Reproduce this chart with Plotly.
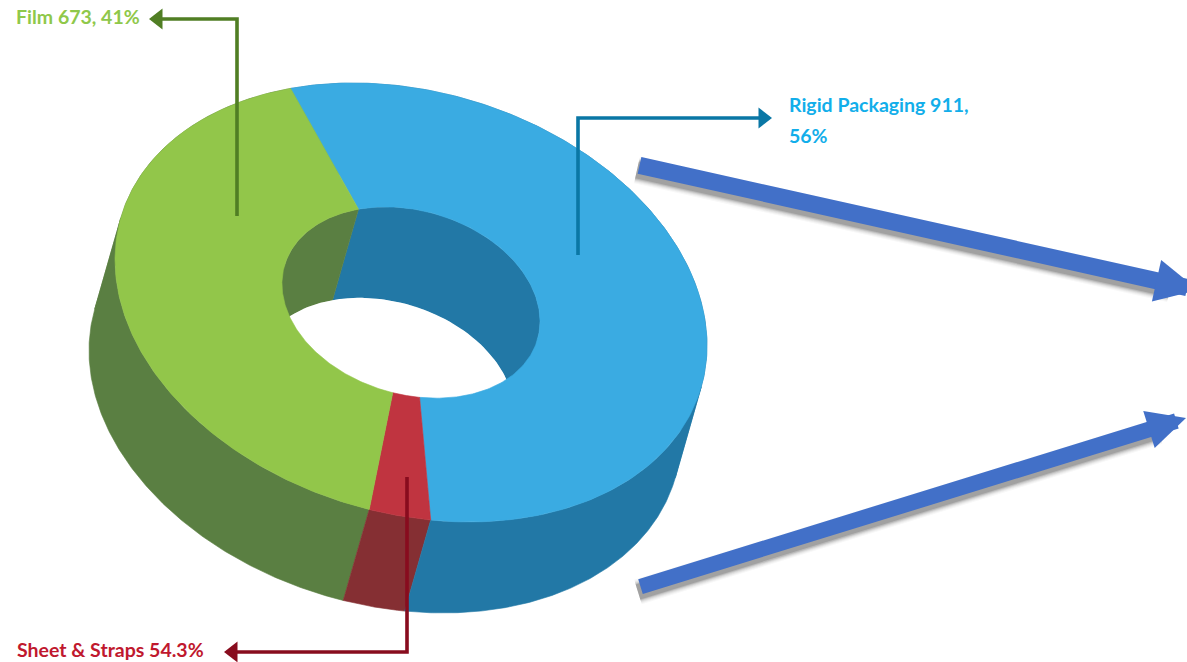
import numpy as np
import plotly.graph_objects as go

# Packaging segments, in the order they run clockwise from the back of the ring
segments = ["Rigid Packaging", "Sheet & Straps", "Film"]
volumes = [911, 54.3, 673]
top_colors = ["#3aabe2", "#c03440", "#92c64a"]
wall_colors = ["#2278a6", "#852f33", "#5a7f42"]

# Ring projection, in page pixels
CENTER = (411.0, 302.5)
HALF_WIDTH = 296.0
SKEW = 43.0
HALF_HEIGHT = 215.2
HOLE_RATIO = 0.436
DEPTH = (-26.0, 91.0)
START_DEG = 246.0

# Callouts: elbow line vertices, ending at the arrow tip
film_leader_x = [237, 237, 158]
film_leader_y = [216, 19, 19]
rigid_leader_x = [578, 578, 763]
rigid_leader_y = [255, 118, 118]
sheet_leader_x = [407, 407, 233]
sheet_leader_y = [477, 652, 652]

callout_labels = ["Film 673, 41%", "Rigid Packaging 911,", "56%", "Sheet & Straps 54.3%"]
callout_x = [14, 787, 787, 15]
callout_y = [16, 104, 135, 649]
callout_colors = ["#8fc84a", "#12aeea", "#12aeea", "#c0182e"]

# Large pointers leading off to the right
pointer_tail_x = [638, 639]
pointer_tail_y = [165, 587]
pointer_tip_x = [1198, 1186]
pointer_tip_y = [290, 418]
pointer_widths = [17, 15.5]
POINTER_COLOR = "#4270c8"


def ring_point(deg, scale=1.0, shift=(0.0, 0.0)):
    t = np.radians(deg)
    x = CENTER[0] + scale * HALF_WIDTH * np.cos(t) + shift[0]
    y = CENTER[1] + scale * (SKEW * np.cos(t) + HALF_HEIGHT * np.sin(t)) + shift[1]
    return x, y


def arc(start, end, scale=1.0, shift=(0.0, 0.0), n=180):
    return ring_point(np.linspace(start, end, n), scale, shift)


def polygon(xa, ya, xb, yb, color, name):
    return go.Scatter(
        x=np.r_[xa, xb[::-1], xa[0]],
        y=np.r_[ya, yb[::-1], ya[0]],
        mode="lines",
        fill="toself",
        fillcolor=color,
        line=dict(width=0.6, color=color),
        name=name,
        hoverinfo="skip",
    )


def silhouette_angles():
    # Angles where the ring edge runs parallel to the extrusion direction
    t0 = np.degrees(np.arctan2(HALF_HEIGHT * DEPTH[0], SKEW * DEPTH[0] - HALF_WIDTH * DEPTH[1]))
    return t0 % 180


def wall_traces(start, end, scale, color, name):
    # Split a slice at the silhouette so every swept piece is a simple outline
    t0 = silhouette_angles()
    cuts = [a for a in t0 + 180 * np.arange(-2, 6) if start < a < end]
    stops = [start, *cuts, end]
    traces = []
    for a, b in zip(stops[:-1], stops[1:]):
        xa, ya = arc(a, b, scale)
        xb, yb = arc(a, b, scale, DEPTH)
        traces.append(polygon(xa, ya, xb, yb, color, name))
    return traces


fractions = np.array(volumes) / sum(volumes)
edges = START_DEG + 360 * np.r_[0, np.cumsum(fractions)]

fig = go.Figure()

# Outer walls
for i in [2, 1, 0]:
    fig.add_traces(wall_traces(edges[i], edges[i + 1], 1.0, wall_colors[i], segments[i] + " wall"))

# Inner walls seen through the hole
for i in [0, 2]:
    fig.add_traces(wall_traces(edges[i], edges[i + 1], HOLE_RATIO, wall_colors[i],
                               segments[i] + " inner wall"))

# Opening at the bottom of the hole
hx, hy = arc(0, 360, HOLE_RATIO, DEPTH)
fig.add_trace(go.Scatter(x=hx, y=hy, mode="lines", fill="toself", fillcolor="white",
                         line=dict(width=0, color="white"), hoverinfo="skip", name="opening"))

# Top face
for i in range(3):
    xa, ya = arc(edges[i], edges[i + 1])
    xb, yb = arc(edges[i], edges[i + 1], HOLE_RATIO)
    fig.add_trace(polygon(xa, ya, xb, yb, top_colors[i], segments[i]))

# Soft shadows under the large pointers, fading away from the shaft
for tx, ty, px, py, w in zip(pointer_tail_x, pointer_tail_y, pointer_tip_x, pointer_tip_y,
                             pointer_widths):
    ex = tx + 0.95 * (px - tx)
    ey = ty + 0.95 * (py - ty)
    for extra, alpha in [(0, 0.16), (2, 0.12), (4, 0.09), (6, 0.06), (8, 0.04), (10, 0.03)]:
        fig.add_trace(go.Scatter(
            x=[tx - 1, ex], y=[ty + 5, ey + 5], mode="lines",
            line=dict(width=w + extra, color=f"rgba(30,30,30,{alpha})"), hoverinfo="skip",
        ))

# Elbow callout lines with their arrow tips
leaders = [
    (film_leader_x, film_leader_y, "#507e24", "triangle-left"),
    (rigid_leader_x, rigid_leader_y, "#0a77a5", "triangle-right"),
    (sheet_leader_x, sheet_leader_y, "#880c1e", "triangle-left"),
]
for lx, ly, color, symbol in leaders:
    fig.add_trace(go.Scatter(x=lx, y=ly, mode="lines", line=dict(width=3.6, color=color),
                             hoverinfo="skip"))
    fig.add_trace(go.Scatter(x=lx[-1:], y=ly[-1:], mode="markers",
                             marker=dict(symbol=symbol, size=18, color=color), hoverinfo="skip"))

annotations = [
    dict(x=x, y=y, text=f"<b>{t}</b>", showarrow=False, xanchor="left", yanchor="middle",
         font=dict(family="Lato", size=19.5, color=c))
    for t, x, y, c in zip(callout_labels, callout_x, callout_y, callout_colors)
]
for tx, ty, px, py, w in zip(pointer_tail_x, pointer_tail_y, pointer_tip_x, pointer_tip_y,
                             pointer_widths):
    annotations.append(dict(
        x=px, y=py, ax=tx, ay=ty, axref="x", ayref="y", xref="x", yref="y", text="",
        showarrow=True, arrowhead=2, arrowsize=0.5, arrowwidth=w, arrowcolor=POINTER_COLOR,
    ))

fig.update_layout(
    width=1187,
    height=662,
    margin=dict(l=0, r=0, t=0, b=0),
    paper_bgcolor="white",
    plot_bgcolor="white",
    showlegend=False,
    xaxis=dict(range=[0, 1187], visible=False, fixedrange=True),
    yaxis=dict(range=[662, 0], visible=False, fixedrange=True),
    annotations=annotations,
)

fig.write_html("out.html", config=dict(displayModeBar=False))
